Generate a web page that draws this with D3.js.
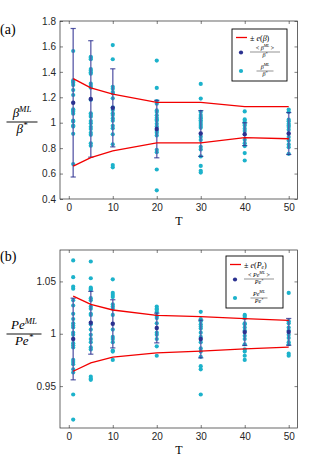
<!DOCTYPE html>
<html lang="en">
<head>
<meta charset="UTF-8">
<title>beta and Pe estimates vs T</title>
<script src="https://d3js.org/d3.v7.min.js"></script>
<style>
  body { margin: 0; background: #fff; }
  .tick text { font-family: "Liberation Sans", Arial, sans-serif; font-size: 10px; fill: #262626; }
  .tick line { stroke: #262626; stroke-width: 0.6; }
</style>
</head>
<body>
<svg width="331" height="472"></svg>
<script>
// ---- data ----
var T = [1, 5, 10, 20, 30, 40, 50];
var xTicks = [0, 10, 20, 30, 40, 50];

var betaTicks = [0.4, 0.6, 0.8, 1, 1.2, 1.4, 1.6, 1.8];
var betaTickLabels = ["0.4", "0.6", "0.8", "1", "1.2", "1.4", "1.6", "1.8"];
var peTicks = [0.95, 1, 1.05];
var peTickLabels = ["0.95", "1", "1.05"];

// individual runs beta^ML / beta*
var betaRuns = [
  [1.564, 1.333, 1.322, 1.315, 1.296, 1.257, 1.218, 1.105, 1.095, 1.086, 1.071, 1.016, 1.01, 0.978, 0.97, 0.913, 0.675],
  [1.519, 1.51, 1.50, 1.422, 1.41, 1.396, 1.385, 1.307, 1.289, 1.275, 1.18, 1.074, 1.06, 1.047, 1.013, 0.995, 0.968, 0.95, 0.921, 0.905, 0.838, 0.819],
  [1.611, 1.499, 1.283, 1.267, 1.241, 1.231, 1.192, 1.12, 1.10, 1.074, 1.06, 1.034, 1.016, 0.976, 0.956, 0.909, 0.83, 0.667, 0.649],
  [1.489, 1.274, 1.17, 1.15, 1.097, 1.084, 1.058, 1.039, 1.026, 1.016, 0.992, 0.971, 0.934, 0.921, 0.9, 0.787, 0.768, 0.632, 0.468],
  [1.305, 1.19, 1.085, 1.06, 1.045, 1.035, 1.02, 1.005, 0.99, 0.975, 0.96, 0.89, 0.865, 0.81, 0.79, 0.735, 0.66, 0.622, 0.608],
  [1.089, 1.026, 1.013, 0.992, 0.979, 0.953, 0.934, 0.866, 0.839, 0.816, 0.761, 0.703],
  [1.103, 1.084, 1.024, 1.011, 0.992, 0.979, 0.966, 0.945, 0.887, 0.861, 0.829, 0.808, 0.755]
];
var betaMean = [1.157, 1.187, 1.117, 0.95, 0.915, 0.91, 0.915];
var betaErr = [0.584, 0.458, 0.307, 0.226, 0.18, 0.09, 0.165];
var betaUpper = [1.347, 1.274, 1.224, 1.16, 1.16, 1.126, 1.126];
var betaLower = [0.658, 0.726, 0.779, 0.842, 0.842, 0.882, 0.874];

// individual runs Pe^ML / Pe*
var peRuns = [
  [1.070, 1.054, 1.045, 1.043, 1.032, 1.027, 1.019, 1.014, 1.010, 1.008, 1.006, 1.001, 0.999, 0.991, 0.989, 0.987, 0.975, 0.973, 0.971, 0.966, 0.963, 0.942, 0.918],
  [1.069, 1.053, 1.044, 1.043, 1.042, 1.034, 1.032, 1.026, 1.024, 1.019, 1.018, 1.009, 1.004, 0.999, 0.995, 0.992, 0.987, 0.985, 0.959, 0.957, 0.956],
  [1.052, 1.039, 1.037, 1.035, 1.028, 1.026, 1.024, 1.018, 1.004, 0.997, 0.995, 0.992, 0.984, 0.983, 0.975],
  [1.026, 1.024, 1.023, 1.021, 1.017, 1.015, 1.010, 1.001, 0.999, 0.995, 0.988, 0.979],
  [1.021, 1.014, 1.012, 1.009, 1.007, 1.005, 1.001, 0.997, 0.992, 0.986, 0.983, 0.978, 0.969, 0.966, 0.942],
  [1.018, 1.017, 1.015, 1.010, 1.009, 1.006, 1.003, 0.998, 0.995, 0.990, 0.985, 0.983, 0.979, 0.975],
  [1.039, 1.012, 1.010, 1.006, 1.003, 0.999, 0.996, 0.992, 0.990, 0.981, 0.979]
];
var peMean = [0.995, 1.0105, 1.0095, 1.0055, 0.995, 1.0016, 1.0018];
var peErr = [0.039, 0.030, 0.023, 0.0142, 0.018, 0.0128, 0.0128];
var peUpper = [1.036, 1.028, 1.0227, 1.0176, 1.0163, 1.0144, 1.0128];
var peLower = [0.9642, 0.9722, 0.9776, 0.9818, 0.9834, 0.9856, 0.9872];

var cyan = "#1cb2cb";
var navy = "#2b3190";
var barCol = "#5656a6";
var serif = "'Liberation Serif', 'DejaVu Serif', serif";

var svg = d3.select("svg");

// write math-ish text: parts = [[string, kind]], kind r / i / sup / sub
function mathText(sel, x, y, parts, size, anchor) {
  var t = sel.append("text")
    .attr("x", x).attr("y", y)
    .attr("font-family", serif)
    .attr("font-size", size)
    .attr("text-anchor", anchor || "middle")
    .attr("fill", "#000");
  var shift = 0;
  parts.forEach(function(p) {
    var ts = t.append("tspan").text(p[0]);
    if (p[1] != "r") ts.attr("font-style", "italic");
    var target = p[1] == "sup" ? -size * 0.42 : p[1] == "sub" ? size * 0.22 : 0;
    if (target != shift) { ts.attr("dy", target - shift); shift = target; }
    if (p[1] == "sup" || p[1] == "sub") ts.attr("font-size", size * 0.68);
  });
  return t;
}

// fraction centred on cx with the bar at yLine
function frac(sel, cx, yLine, num, den, size, w) {
  mathText(sel, cx, yLine - size * 0.36, num, size);
  sel.append("line")
    .attr("x1", cx - w / 2).attr("x2", cx + w / 2)
    .attr("y1", yLine).attr("y2", yLine)
    .attr("stroke", "#000").attr("stroke-width", Math.max(0.4, size / 14));
  mathText(sel, cx, yLine + size * 0.85, den, size);
}

function drawPanel(p) {
  var x = d3.scaleLinear().domain([-2, 52]).range([60, 297.5]);
  var y = d3.scaleLinear().domain(p.ylim).range([p.bottom, p.top]);
  var g = svg.append("g");

  // box + inward ticks on all four sides
  g.append("rect")
    .attr("x", 60).attr("y", p.top)
    .attr("width", 237.5).attr("height", p.bottom - p.top)
    .attr("fill", "none").attr("stroke", "#262626").attr("stroke-width", 0.7);

  g.append("g").attr("transform", "translate(0," + p.bottom + ")")
    .call(d3.axisBottom(x).tickValues(xTicks).tickSize(-3).tickSizeOuter(0).tickPadding(5))
    .select(".domain").remove();
  g.append("g").attr("transform", "translate(0," + p.top + ")")
    .call(d3.axisTop(x).tickValues(xTicks).tickSize(-3).tickSizeOuter(0).tickFormat(""))
    .select(".domain").remove();
  g.append("g").attr("transform", "translate(60,0)")
    .call(d3.axisLeft(y).tickValues(p.ticks).tickSize(-3).tickSizeOuter(0).tickPadding(4)
      .tickFormat(function(d, i) { return p.tickLabels[i]; }))
    .select(".domain").remove();
  g.append("g").attr("transform", "translate(297.5,0)")
    .call(d3.axisRight(y).tickValues(p.ticks).tickSize(-3).tickSizeOuter(0).tickFormat(""))
    .select(".domain").remove();

  // single runs
  T.forEach(function(t, i) {
    g.selectAll(null)
      .data(p.runs[i])
      .enter().append("circle")
      .attr("cx", x(t))
      .attr("cy", function(d) { return y(d); })
      .attr("r", 2.1)
      .attr("fill", cyan);
  });

  // error bars of the mean
  var eb = g.selectAll(".eb").data(T).enter().append("g").attr("class", "eb")
    .attr("stroke", barCol).attr("stroke-opacity", 0.8).attr("stroke-width", 1.6);
  eb.append("line")
    .attr("x1", function(d) { return x(d); }).attr("x2", function(d) { return x(d); })
    .attr("y1", function(d, i) { return y(p.mean[i] + p.err[i]); })
    .attr("y2", function(d, i) { return y(p.mean[i] - p.err[i]); });
  [1, -1].forEach(function(s) {
    eb.append("line")
      .attr("x1", function(d) { return x(d) - 2.6; }).attr("x2", function(d) { return x(d) + 2.6; })
      .attr("y1", function(d, i) { return y(p.mean[i] + s * p.err[i]); })
      .attr("y2", function(d, i) { return y(p.mean[i] + s * p.err[i]); })
      .attr("stroke", navy).attr("stroke-width", 1.2);
  });

  g.selectAll(".mean").data(T).enter().append("circle")
    .attr("cx", function(d) { return x(d); })
    .attr("cy", function(d, i) { return y(p.mean[i]); })
    .attr("r", 2.2)
    .attr("fill", navy);

  // +/- e band
  var line = d3.line().x(function(d) { return x(d[0]); }).y(function(d) { return y(d[1]); });
  [p.upper, p.lower].forEach(function(arr) {
    g.append("path")
      .datum(T.map(function(t, i) { return [t, arr[i]]; }))
      .attr("d", line)
      .attr("fill", "none").attr("stroke", "#f20000").attr("stroke-width", 1.3);
  });

  // x label
  mathText(g, 179, p.bottom + 26, [["T", "r"]], 12);
  // panel tag
  mathText(g, 0, p.top + p.tagDy, [["(" + p.tag + ")", "r"]], 14, "start");

  // legend
  var L = p.legend;
  var lg = g.append("g");
  lg.append("rect").attr("x", L.x).attr("y", L.y).attr("width", L.w).attr("height", L.h)
    .attr("fill", "#fff").attr("stroke", "#000").attr("stroke-width", 0.9);
  lg.append("line").attr("x1", L.x + 4).attr("x2", L.x + 15)
    .attr("y1", L.y + 8.5).attr("y2", L.y + 8.5)
    .attr("stroke", "#f20000").attr("stroke-width", 1.3);
  mathText(lg, L.x + 18, L.y + 11.5, L.errText, 8, "start");
  lg.append("circle").attr("cx", L.x + 9).attr("cy", L.y + 23.5).attr("r", 2.1).attr("fill", navy);
  frac(lg, L.x + 33, L.y + 23, L.meanNum, L.meanDen, 6, 30);
  lg.append("circle").attr("cx", L.x + 9).attr("cy", L.y + 42).attr("r", 2.1).attr("fill", cyan);
  frac(lg, L.x + 33, L.y + 42, L.runNum, L.runDen, 6, 17);

  // y label
  frac(g, p.ylab.cx, p.ylab.y, p.ylab.num, p.ylab.den, 13, p.ylab.w);
}

drawPanel({
  top: 21, bottom: 199, ylim: [0.4, 1.8], ticks: betaTicks, tickLabels: betaTickLabels,
  runs: betaRuns, mean: betaMean, err: betaErr, upper: betaUpper, lower: betaLower,
  tag: "a", tagDy: 13,
  legend: {
    x: 232, y: 29, w: 55, h: 52,
    errText: [["\u00B1 ", "r"], ["e", "i"], ["(", "r"], ["\u03B2", "i"], [")", "r"]],
    meanNum: [["< ", "r"], ["\u03B2", "i"], ["ML", "sup"], [" >", "r"]],
    meanDen: [["\u03B2", "i"], ["*", "sup"]],
    runNum: [["\u03B2", "i"], ["ML", "sup"]],
    runDen: [["\u03B2", "i"], ["*", "sup"]]
  },
  ylab: {
    cx: 22, y: 122, w: 31,
    num: [["\u03B2", "i"], ["ML", "sup"]],
    den: [["\u03B2", "i"], ["*", "sup"]]
  }
});

drawPanel({
  top: 250, bottom: 428, ylim: [0.91, 1.08], ticks: peTicks, tickLabels: peTickLabels,
  runs: peRuns, mean: peMean, err: peErr, upper: peUpper, lower: peLower,
  tag: "b", tagDy: 11,
  legend: {
    x: 226, y: 256, w: 57, h: 52,
    errText: [["\u00B1 ", "r"], ["e", "i"], ["(", "r"], ["P", "i"], ["e", "sub"], [")", "r"]],
    meanNum: [["< ", "r"], ["Pe", "i"], ["ML", "sup"], [" >", "r"]],
    meanDen: [["Pe", "i"], ["*", "sup"]],
    runNum: [["Pe", "i"], ["ML", "sup"]],
    runDen: [["Pe", "i"], ["*", "sup"]]
  },
  ylab: {
    cx: 24, y: 334, w: 35,
    num: [["Pe", "i"], ["ML", "sup"]],
    den: [["Pe", "i"], ["*", "sup"]]
  }
});
</script>
</body>
</html>
